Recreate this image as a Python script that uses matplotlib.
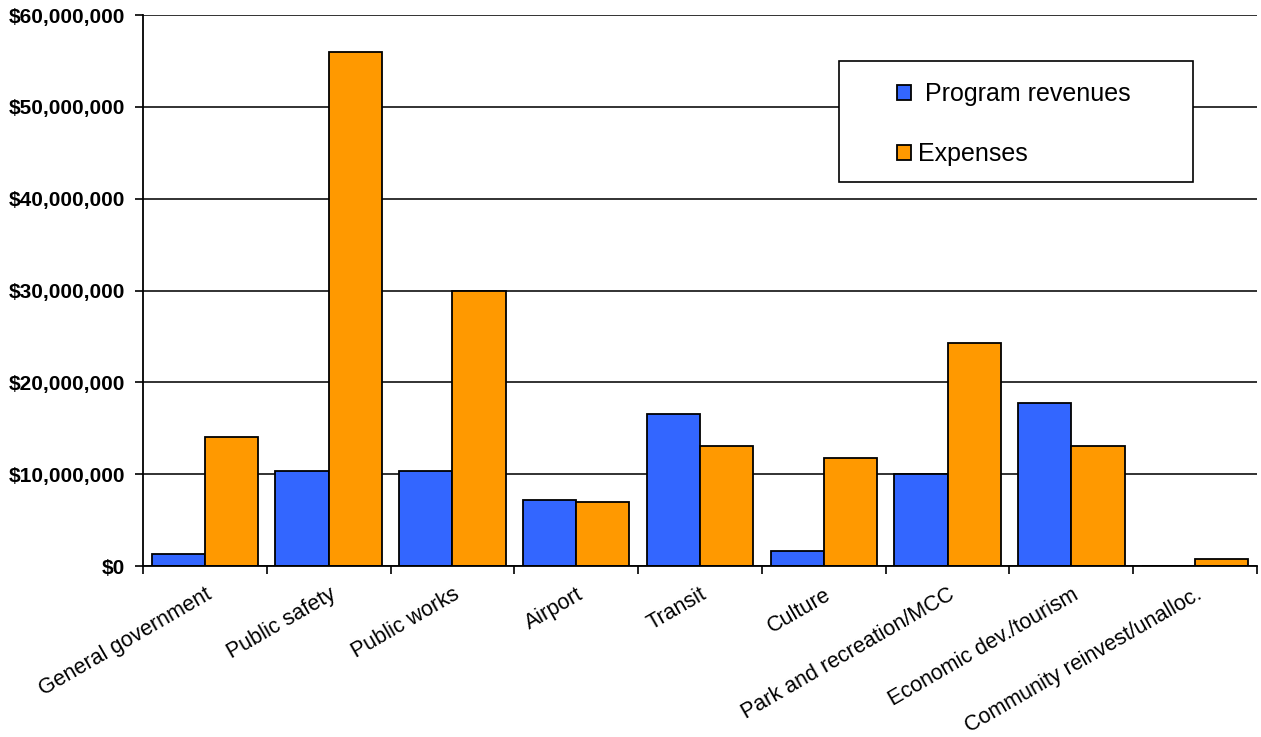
import numpy as np
import matplotlib
matplotlib.use("Agg")
import matplotlib.pyplot as plt
from matplotlib.patches import Rectangle
from matplotlib.ticker import FuncFormatter

plt.rcParams['font.family'] = ['Liberation Sans', 'DejaVu Sans']

categories = ['General government', 'Public safety', 'Public works', 'Airport',
              'Transit', 'Culture', 'Park and recreation/MCC',
              'Economic dev./tourism', 'Community reinvest/unalloc.']
program_revenues = [1.35e6, 10.4e6, 10.4e6, 7.15e6, 16.55e6, 1.65e6, 10.0e6, 17.75e6, 0]
expenses = [14.0e6, 56.0e6, 30.0e6, 6.95e6, 13.1e6, 11.75e6, 24.3e6, 13.1e6, 0.8e6]

fig = plt.figure(figsize=(12.61, 7.37), dpi=100)
ax = fig.add_axes([0.1134, 0.232, 0.8834, 0.7476])

x = np.arange(len(categories))
w = 0.43
ax.bar(x - w / 2, program_revenues, w, color='#3366FF', edgecolor='black',
       linewidth=1.3, label=' Program revenues', zorder=2)
ax.bar(x + w / 2, expenses, w, color='#FF9900', edgecolor='black',
       linewidth=1.3, label='Expenses', zorder=2)

ax.set_xlim(-0.5, len(categories) - 0.5)
ax.set_ylim(0, 60e6)
ax.set_yticks(np.arange(0, 60e6 + 1, 10e6))
ax.yaxis.set_major_formatter(FuncFormatter(lambda v, p: '${:,.0f}'.format(v)))
for lab in ax.get_yticklabels():
    lab.set_fontweight('bold')
ax.tick_params(axis='y', labelsize=15, length=6, width=1.2, pad=7)
ax.grid(axis='y', color='#222222', linewidth=1.3, zorder=1)

ax.set_xticks(x)
ax.set_xticklabels(categories, rotation=30, ha='right', va='top',
                   rotation_mode='anchor', fontsize=15.5)
ax.tick_params(axis='x', length=0, pad=13)
ax.set_xticks(np.arange(-0.5, len(categories)), minor=True)
ax.tick_params(axis='x', which='minor', length=6, width=1.2)

for s in ['top', 'right']:
    ax.spines[s].set_visible(False)
ax.spines['left'].set_linewidth(1.3)
ax.spines['bottom'].set_linewidth(1.3)

ax.add_patch(Rectangle((0.625, 0.6975), 0.318, 0.2195, transform=ax.transAxes,
                       facecolor='white', edgecolor='black', linewidth=1.2, zorder=3))
leg = ax.legend(loc='center', bbox_to_anchor=(0.782, 0.802), frameon=False,
                fontsize=18, handlelength=0.55, handleheight=0.55,
                handletextpad=0.3, labelspacing=1.43)
leg.set_zorder(4)

fig.savefig('out.png', dpi=100)
